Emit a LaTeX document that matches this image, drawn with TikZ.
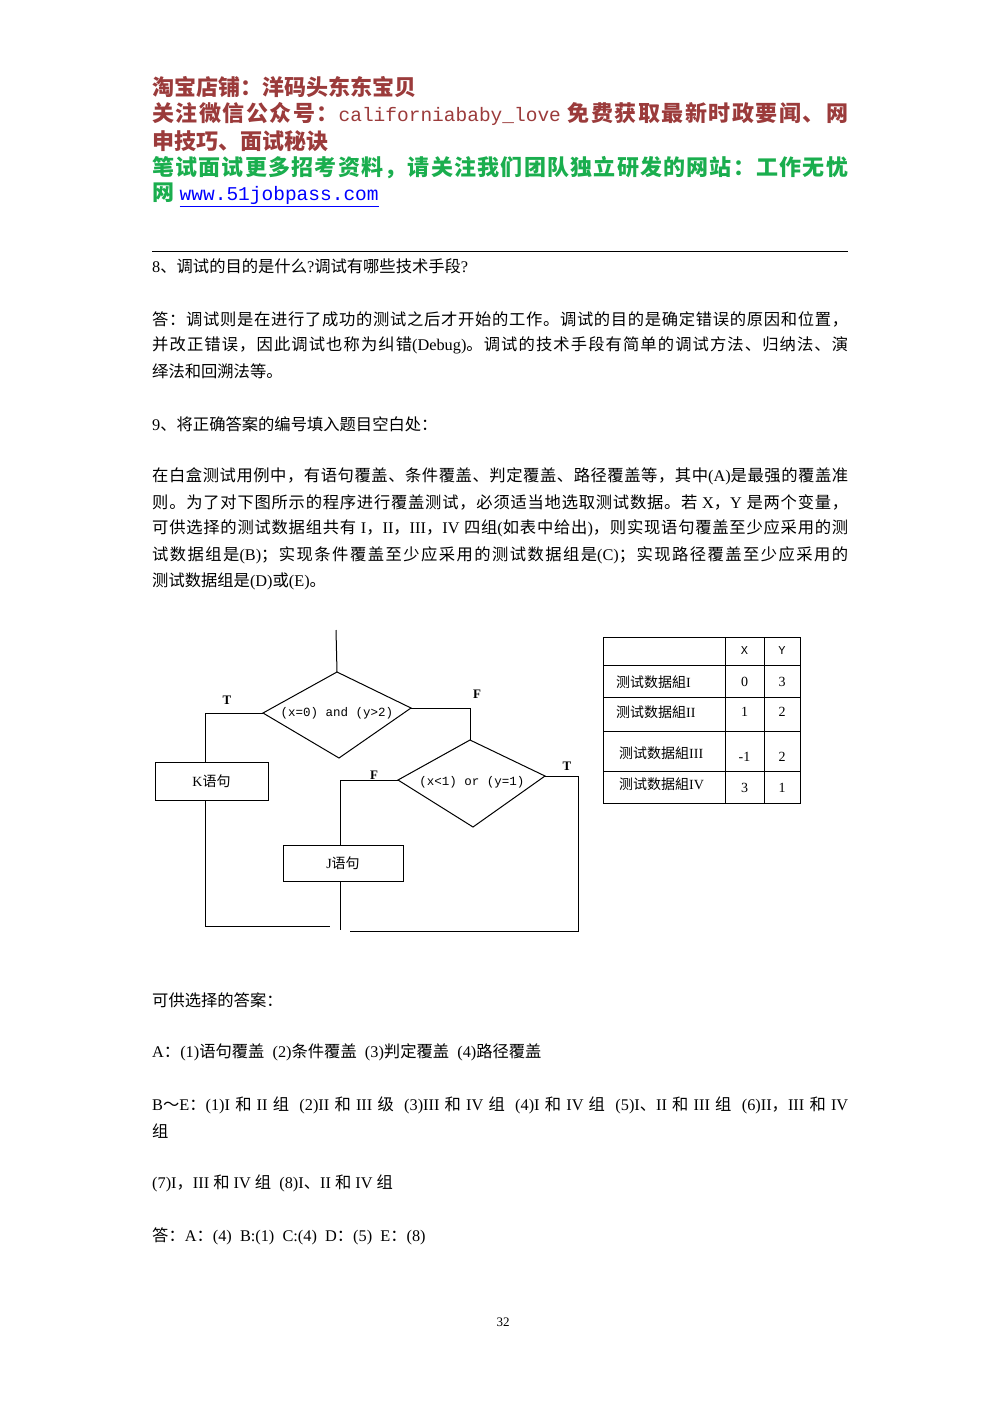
\documentclass[tikz,border=0pt]{standalone}
\usepackage{fontspec}
\setmainfont{Liberation Serif}
\setmonofont{Liberation Mono}
\newfontfamily\cjk{Noto Sans CJK SC}
\XeTeXinterchartokenstate=1
\newXeTeXintercharclass\mycjk
\newcount\cc
\cc="4E00 \loop\ifnum\cc<"9FFF \XeTeXcharclass\cc=\mycjk \advance\cc 1 \repeat
\cc="3000 \loop\ifnum\cc<"3040 \XeTeXcharclass\cc=\mycjk \advance\cc 1 \repeat
\cc="FF00 \loop\ifnum\cc<"FFF0 \XeTeXcharclass\cc=\mycjk \advance\cc 1 \repeat
\XeTeXinterchartoks 0 \mycjk = {\begingroup\cjk}
\XeTeXinterchartoks 4095 \mycjk = {\begingroup\cjk}
\XeTeXinterchartoks \mycjk 0 = {\endgroup}
\XeTeXinterchartoks \mycjk 4095 = {\endgroup}
\XeTeXinterchartoks \mycjk \mycjk = {\hskip0pt plus 3pt minus 1.5pt\relax}
\definecolor{hred}{HTML}{9B3B3B}
\definecolor{hgreen}{HTML}{1AAE4E}
\newcommand\full[1]{\hbox to 696pt{#1}}
\begin{document}
\begin{tikzpicture}[x=1pt,y=-1pt,
  body/.style={anchor=west,inner sep=0pt,font=\fontsize{16.3}{18}\selectfont},
  head/.style={anchor=west,inner sep=0pt,font=\fontsize{22}{24}\selectfont\bfseries},
  fl/.style={line width=1pt},
  lab/.style={font=\fontsize{13}{14}\selectfont\bfseries,inner sep=0pt},
  box/.style={draw,line width=1pt,inner sep=0pt},
  tc/.style={font=\fontsize{14}{16}\selectfont,inner sep=0pt}]
\useasboundingbox (0,0) rectangle (1000,1414);
\fill[white] (0,0) rectangle (1000,1414);
% header
\node[head,text=hred] (h1) at (152,87) {淘宝店铺：洋码头东东宝贝};
\node[head,text=hred] (h2) at (152,114) {\full{关注微信公众号：{\ttfamily\mdseries\fontsize{19.5}{22}\selectfont californiababy\_love} 免费获取最新时政要闻、网}};
\node[head,text=hred] (h3) at (152,141) {申技巧、面试秘诀};
\node[head,text=hgreen] (h4) at (152,168) {\full{笔试面试更多招考资料，请关注我们团队独立研发的网站：工作无忧}};
\node[head,text=hgreen] (h5) at (152,195) {网 {\color{blue}\ttfamily\mdseries\fontsize{19.5}{22}\selectfont\underline{www.51jobpass.com}}};
\draw[line width=0.8pt] (152,251) -- (848,251);
% body
\node[body] (t1) at (152,266) {8、调试的目的是什么?调试有哪些技术手段?};
\node[body] (t2) at (152,319) {\full{答：调试则是在进行了成功的测试之后才开始的工作。调试的目的是确定错误的原因和位置，}};
\node[body] (t3) at (152,345) {\full{并改正错误，因此调试也称为纠错(Debug)。调试的技术手段有简单的调试方法、归纳法、演}};
\node[body] (t4) at (152,371) {绎法和回溯法等。};
\node[body] (t5) at (152,424) {9、将正确答案的编号填入题目空白处：};
\node[body] (t6) at (152,476) {\full{在白盒测试用例中，有语句覆盖、条件覆盖、判定覆盖、路径覆盖等，其中(A)是最强的覆盖准}};
\node[body] (t7) at (152,502) {\full{则。为了对下图所示的程序进行覆盖测试，必须适当地选取测试数据。若 X，Y 是两个变量，}};
\node[body] (t8) at (152,528) {\full{可供选择的测试数据组共有 I，II，III，IV 四组(如表中给出)，则实现语句覆盖至少应采用的测}};
\node[body] (t9) at (152,555) {\full{试数据组是(B)；实现条件覆盖至少应采用的测试数据组是(C)；实现路径覆盖至少应采用的}};
\node[body] (t10) at (152,581) {测试数据组是(D)或(E)。};
\node[body] (t11) at (152,1000) {可供选择的答案：};
\node[body] (t12) at (152,1052) {A：(1)语句覆盖 \ (2)条件覆盖 \ (3)判定覆盖 \ (4)路径覆盖};
\node[body] (t13) at (152,1105) {\full{B～E：(1)I 和 II 组 \ (2)II 和 III 级 \ (3)III 和 IV 组 \ (4)I 和 IV 组 \ (5)I、II 和 III 组 \ (6)II，III 和 IV}};
\node[body] (t14) at (152,1131) {组};
\node[body] (t15) at (152,1183) {(7)I，III 和 IV 组 \ (8)I、II 和 IV 组};
\node[body] (t16) at (152,1236) {答：A：(4) \ B:(1) \ C:(4) \ D：(5) \ E：(8)};
\node[body,anchor=center,font=\fontsize{13}{15}\selectfont] (pg) at (503,1322) {32};
% flowchart
\coordinate (top) at (336,630);
\coordinate (d1t) at (337,672); \coordinate (d1l) at (263,713);
\coordinate (d1r) at (411,708); \coordinate (d1b) at (339,758);
\draw[fl] (d1t) -- (d1r) -- (d1b) -- (d1l) -- cycle;
\node[inner sep=0pt,font=\ttfamily\fontsize{12.5}{14}\selectfont] (c1) at (337,713) {(x=0) and (y>2)};
\coordinate (d2t) at (470,740); \coordinate (d2l) at (398,780);
\coordinate (d2r) at (545,776); \coordinate (d2b) at (473,827);
\draw[fl] (d2t) -- (d2r) -- (d2b) -- (d2l) -- cycle;
\node[inner sep=0pt,font=\ttfamily\fontsize{12.5}{14}\selectfont] (c2) at (472,782) {(x<1) or (y=1)};
\node[box,minimum width=113pt,minimum height=38pt] (K) at (211.5,781) {\fontsize{14}{16}\selectfont K语句};
\node[box,minimum width=120pt,minimum height=36pt] (J) at (343,863) {\fontsize{14}{16}\selectfont J语句};
\draw[fl] (top) -- (d1t);
\draw[fl] (d1l) -- (205,713) -- (205,762);
\draw[fl] (d1r) -- (470,708) -- (d2t);
\draw[fl] (d2l) -- (340,780) -- (340,845);
\draw[fl] (d2r) -- (578,776) -- (578,931) -- (350,931);
\draw[fl] (205,800) -- (205,926) -- (330,926);
\draw[fl] (340,881) -- (340,930);
\node[lab] (lT1) at (227,700) {T};
\node[lab] (lF1) at (477,694) {F};
\node[lab] (lF2) at (374,775) {F};
\node[lab] (lT2) at (567,766) {T};
% table
\draw[line width=1pt] (603,637) rectangle (800,803);
\foreach \yy in {665,697,731,771} \draw[line width=1pt] (603,\yy) -- (800,\yy);
\foreach \xx in {725,764} \draw[line width=1pt] (\xx,637) -- (\xx,803);
\node[tc,font=\ttfamily\fontsize{12}{14}\selectfont] (hx) at (744.5,651) {X};
\node[tc,font=\ttfamily\fontsize{12}{14}\selectfont] (hy) at (782,651) {Y};
\node[tc,anchor=west] (r1) at (616,682) {测试数据組I};
\node[tc,anchor=west] (r2) at (616,712) {测试数据組II};
\node[tc,anchor=west] (r3) at (619,753) {测试数据組III};
\node[tc,anchor=west] (r4) at (619,784) {测试数据組IV};
\node[tc] (a1) at (744.5,682) {0}; \node[tc] (b1) at (782,682) {3};
\node[tc] (a2) at (744.5,712) {1}; \node[tc] (b2) at (782,712) {2};
\node[tc] (a3) at (744.5,757) {-1}; \node[tc] (b3) at (782,757) {2};
\node[tc] (a4) at (744.5,788) {3}; \node[tc] (b4) at (782,788) {1};
\end{tikzpicture}
\end{document}
